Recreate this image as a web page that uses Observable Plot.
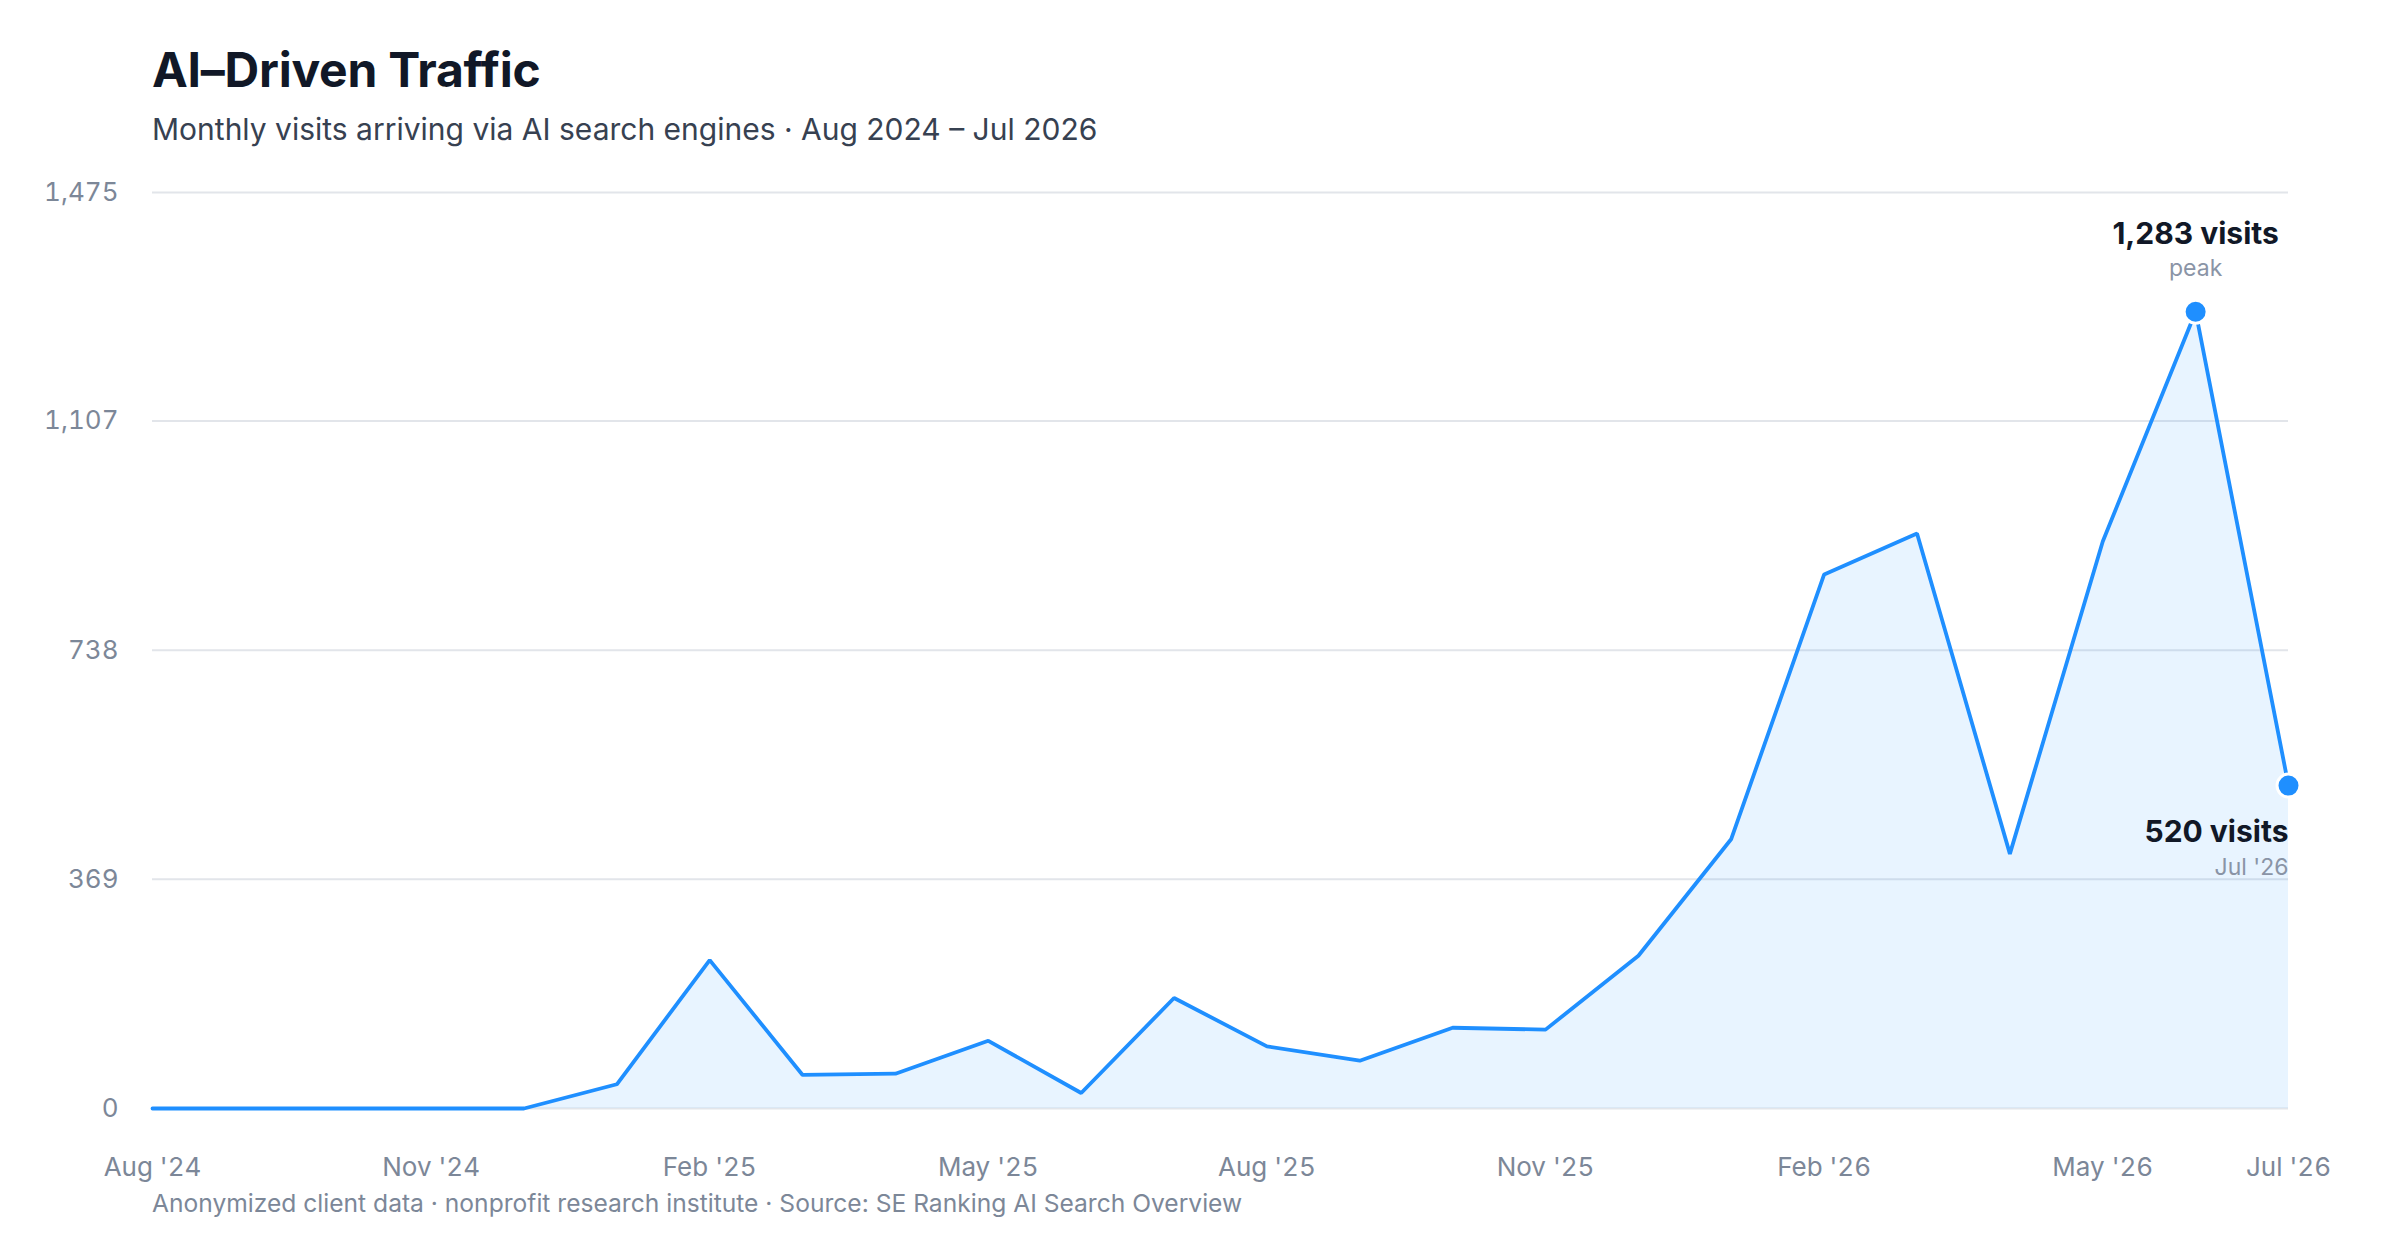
<!DOCTYPE html>
<html>
<head>
<meta charset="utf-8">
<script src="https://cdn.jsdelivr.net/npm/d3@7"></script>
<script src="https://cdn.jsdelivr.net/npm/@observablehq/plot@0.6"></script>
<style>
  html, body { margin: 0; padding: 0; background: #ffffff; }
  body { font-family: Inter, "Helvetica Neue", Arial, sans-serif; width: 2400px; height: 1260px; overflow: hidden; position: relative; }
  #title { position: absolute; left: 152px; top: 41px; margin: 0; font-size: 48px; font-weight: 700; color: #111827; letter-spacing: -0.005em; line-height: 58px; white-space: nowrap; }
  #subtitle { position: absolute; left: 152px; top: 111px; margin: 0; font-size: 30px; color: #374151; line-height: 36px; white-space: nowrap; }
  #chart { position: absolute; left: 0; top: 154px; }
  #caption { position: absolute; left: 152px; top: 1188px; margin: 0; font-size: 24.6px; color: #7c8798; line-height: 30px; white-space: nowrap; }
</style>
</head>
<body>
<div id="title">AI–Driven Traffic</div>
<div id="subtitle">Monthly visits arriving via AI search engines · Aug 2024 – Jul 2026</div>
<div id="chart"></div>
<div id="caption">Anonymized client data · nonprofit research institute · Source: SE Ranking AI Search Overview</div>
<script>
// ---- data ----
const months = [
  "2024-08","2024-09","2024-10","2024-11","2024-12",
  "2025-01","2025-02","2025-03","2025-04","2025-05","2025-06","2025-07",
  "2025-08","2025-09","2025-10","2025-11","2025-12",
  "2026-01","2026-02","2026-03","2026-04","2026-05","2026-06","2026-07"
];
const visits = [
  0, 0, 0, 0, 0,
  39, 239, 54, 56, 109, 25, 178,
  100, 77, 130, 127, 246,
  434, 860, 926, 410, 913, 1283, 520
];
const yTicks = [0, 369, 738, 1107, 1475];
const xTickMonths = ["2024-08","2024-11","2025-02","2025-05","2025-08","2025-11","2026-02","2026-05","2026-07"];
const xTickLabels = ["Aug '24","Nov '24","Feb '25","May '25","Aug '25","Nov '25","Feb '26","May '26","Jul '26"];
const annotations = [
  {month: "2026-06", value: 1283, label: "1,283 visits", note: "peak", anchor: "middle"},
  {month: "2026-07", value: 520, label: "520 visits", note: "Jul '26", anchor: "end"}
];

// ---- build (months are evenly spaced by index) ----
const data = months.map((m, i) => ({idx: i, value: visits[i]}));
const tickIdx = xTickMonths.map(m => months.indexOf(m));
const tickLabelMap = new Map(tickIdx.map((k, i) => [k, xTickLabels[i]]));
const ann = annotations.map(a => ({...a, idx: months.indexOf(a.month)}));

const blue = "#1f8fff";
const gray = "#7c8798";

const chart = Plot.plot({
  width: 2400,
  height: 1034,
  marginTop: 38,
  marginBottom: 80,
  marginLeft: 152,
  marginRight: 112,
  style: {fontFamily: "Inter, 'Helvetica Neue', Arial, sans-serif", background: "#ffffff", overflow: "visible"},
  x: {type: "linear", domain: [0, months.length - 1]},
  y: {domain: [0, 1475]},
  marks: [
    Plot.gridY(yTicks, {stroke: "#e2e5ea", strokeOpacity: 1, strokeWidth: 2}),
    Plot.areaY(data, {x: "idx", y: "value", fill: blue, fillOpacity: 0.1}),
    Plot.line(data, {x: "idx", y: "value", stroke: blue, strokeWidth: 3.8, strokeLinejoin: "miter", strokeLinecap: "round"}),
    Plot.dot(ann, {x: "idx", y: "value", r: 11.5, fill: blue, stroke: "#ffffff", strokeWidth: 3}),
    Plot.text(ann, {x: "idx", y: "value", text: "label", textAnchor: "end", filter: d => d.anchor === "end", lineAnchor: "bottom", dy: 56, fontSize: 30, fontWeight: 700, fill: "#111827"}),
    Plot.text(ann, {x: "idx", y: "value", text: "note", textAnchor: "end", filter: d => d.anchor === "end", lineAnchor: "bottom", dy: 89, fontSize: 23, fill: "#8a94a6"}),
    Plot.text(ann, {x: "idx", y: "value", text: "label", textAnchor: "middle", filter: d => d.anchor === "middle", lineAnchor: "bottom", dy: -68, fontSize: 30, fontWeight: 700, fill: "#111827"}),
    Plot.text(ann, {x: "idx", y: "value", text: "note", textAnchor: "middle", filter: d => d.anchor === "middle", lineAnchor: "bottom", dy: -36, fontSize: 23, fill: "#8a94a6"}),
    Plot.axisY({ticks: yTicks, tickFormat: d3.format(","), tickSize: 0, tickPadding: 34, fontSize: 26, fill: gray, label: null}),
    Plot.axisX({ticks: tickIdx, tickFormat: d => tickLabelMap.get(d), tickSize: 0, tickPadding: 49, fontSize: 26, fill: gray, label: null})
  ]
});
document.getElementById("chart").appendChild(chart);
</script>
</body>
</html>
